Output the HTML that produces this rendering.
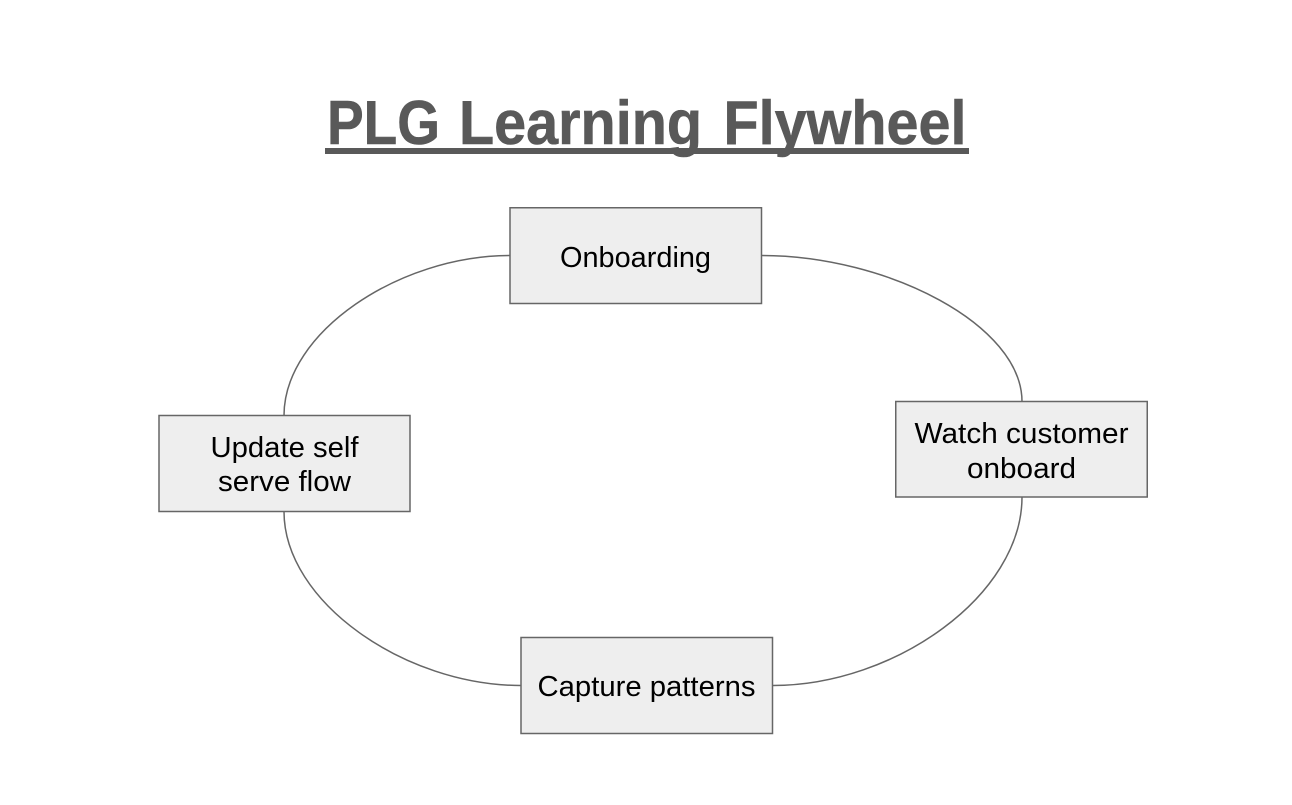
<!DOCTYPE html>
<html>
<head>
<meta charset="utf-8">
<style>
html,body{margin:0;padding:0;background:#fff;}
svg{display:block;}
text{font-family:"Liberation Sans",sans-serif;}
</style>
</head>
<body>
<svg width="1292" height="805" viewBox="0 0 1292 805" xmlns="http://www.w3.org/2000/svg">
<rect width="1292" height="805" fill="#fff"/>
<g font-size="62" font-weight="bold" fill="#595959" stroke="#595959" stroke-width="0.6">
<text x="327" y="144" textLength="113" lengthAdjust="spacingAndGlyphs">PLG</text>
<text x="459" y="144" textLength="243" lengthAdjust="spacingAndGlyphs">Learning</text>
<text x="723.500" y="144" textLength="243" lengthAdjust="spacingAndGlyphs">Flywheel</text>
</g>
<rect x="325" y="148" width="644" height="6" fill="#595959"/>
<g fill="none" stroke="#666666" stroke-width="1.5">
<path d="M510 255.500C399.300 255.500 284 332.300 284 415.500"/>
<path d="M761 255.500C888.900 255.500 1022 325.600 1022 401.500"/>
<path d="M1022 497C1022 595 895 685.500 773 685.500"/>
<path d="M284 511.500C284 602 405 685.500 521 685.500"/>
</g>
<g fill="#eeeeee" stroke="#666666" stroke-width="1.5">
<rect x="510" y="207.750" width="251.500" height="95.750"/>
<rect x="895.750" y="401.500" width="251.500" height="95.500"/>
<rect x="159" y="415.500" width="251" height="96"/>
<rect x="521" y="637.500" width="251.500" height="96"/>
</g>
<g font-size="29" fill="#000" text-anchor="middle">
<text x="635.500" y="267" textLength="151" lengthAdjust="spacingAndGlyphs">Onboarding</text>
<text x="1021.500" y="443" textLength="214" lengthAdjust="spacingAndGlyphs">Watch customer</text>
<text x="1021.500" y="478" textLength="109" lengthAdjust="spacingAndGlyphs">onboard</text>
<text x="284.500" y="457" textLength="148" lengthAdjust="spacingAndGlyphs">Update self</text>
<text x="284.500" y="491" textLength="133" lengthAdjust="spacingAndGlyphs">serve flow</text>
<text x="646.500" y="696" textLength="218" lengthAdjust="spacingAndGlyphs">Capture patterns</text>
</g>
</svg>
</body>
</html>
